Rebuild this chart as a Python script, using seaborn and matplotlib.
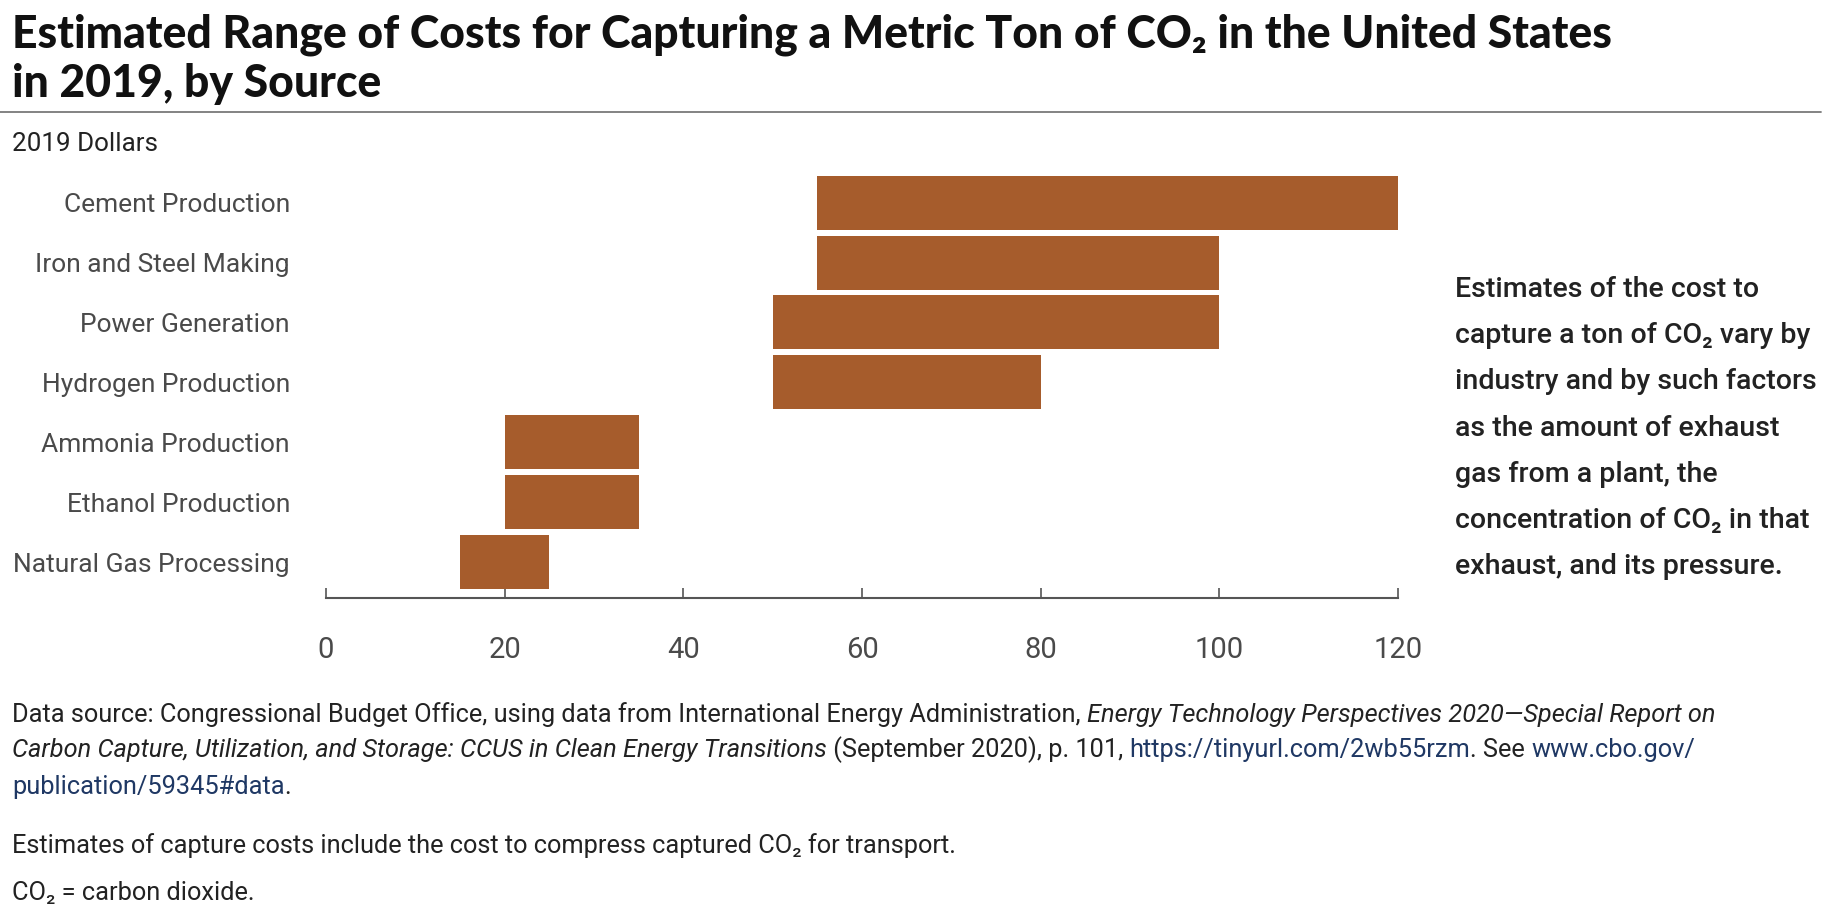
import pandas as pd
import matplotlib
matplotlib.use("Agg")
import matplotlib.pyplot as plt
import seaborn as sns

sources = ["Cement Production", "Iron and Steel Making", "Power Generation",
           "Hydrogen Production", "Ammonia Production", "Ethanol Production",
           "Natural Gas Processing"]
low_cost = [55, 55, 50, 50, 20, 20, 15]
high_cost = [120, 100, 100, 80, 35, 35, 25]
x_ticks = [0, 20, 40, 60, 80, 100, 120]

df = pd.DataFrame({"source": sources, "low": low_cost, "high": high_cost})
df["span"] = df["high"] - df["low"]

sns.set_style("white")
plt.rcParams["font.family"] = ["Roboto", "DejaVu Sans"]

W, H = 1848, 916
fig = plt.figure(figsize=(W / 100, H / 100), dpi=100)
ax = fig.add_axes([326 / W, 1 - 598 / H, 1072 / W, 425.3 / H])

bar_color = "#a65c2c"
sns.barplot(data=df, y="source", x="span", left=df["low"], color=bar_color,
            width=0.9, orient="h", errorbar=None, linewidth=0, saturation=1, ax=ax)

ax.set_xlim(0, 120)
ax.set_ylim(6.6, -0.5)
ax.set_xticks(x_ticks)
ax.set_xlabel("")
ax.set_ylabel("")
for side in ["top", "right", "left"]:
    ax.spines[side].set_visible(False)
ax.spines["bottom"].set_color("#555555")
ax.spines["bottom"].set_linewidth(1.5)
ax.tick_params(axis="x", bottom=True, direction="in", length=7, width=1.2, color="#555555",
               pad=27, labelsize=21, labelcolor="#4a4a4a")
ax.tick_params(axis="y", left=False, length=0, pad=26, labelsize=19, labelcolor="#4a4a4a")

renderer = fig.canvas.get_renderer()


def fx(px):
    return px / W


def fy(py):
    return 1 - py / H


# title, sized to fit the reference width
t1 = fig.text(fx(12), fy(47), "Estimated Range of Costs for Capturing a Metric Ton of CO\u2082 in the United States",
              fontsize=30, fontweight="black", family=["Lato", "DejaVu Sans"], color="#111111", va="baseline")
w = t1.get_window_extent(renderer).width
title_size = 30 * 1597 / w
t1.set_fontsize(title_size)
fig.text(fx(12), fy(97), "in 2019, by Source", fontsize=title_size, fontweight="black",
         family=["Lato", "DejaVu Sans"], color="#111111", va="baseline")

fig.add_artist(plt.Line2D([0, 1821 / W], [fy(112), fy(112)], color="#7a7a7a", lw=1.3))
fig.text(fx(12), fy(151), "2019 Dollars", fontsize=18.7, color="#222222", va="baseline")

note = ("Estimates of the cost to\ncapture a ton of CO\u2082 vary by\nindustry and by such factors\n"
        "as the amount of exhaust\ngas from a plant, the\nconcentration of CO\u2082 in that\n"
        "exhaust, and its pressure.")
fig.text(fx(1455), fy(428), note, fontsize=20.5, fontweight="medium", color="#222222",
         va="center", ha="left", linespacing=1.92)


def segments(x, y, parts, size=18.3):
    x = fx(x)
    for s, style, color in parts:
        t = fig.text(x, fy(y), s, fontsize=size, fontstyle=style, color=color, va="baseline")
        x += t.get_window_extent(renderer).width / W


dark = "#222222"
link = "#1f3864"
segments(12, 722, [
    ("Data source: Congressional Budget Office, using data from International Energy Administration, ", "normal", dark),
    ("Energy Technology Perspectives 2020\u2014Special Report on", "italic", dark)])
segments(12, 757, [
    ("Carbon Capture, Utilization, and Storage: CCUS in Clean Energy Transitions", "italic", dark),
    (" (September 2020), p. 101, ", "normal", dark),
    ("https://tinyurl.com/2wb55rzm", "normal", link),
    (". See ", "normal", dark),
    ("www.cbo.gov/", "normal", link)])
segments(12, 794, [("publication/59345#data", "normal", link), (".", "normal", dark)])
segments(12, 853, [("Estimates of capture costs include the cost to compress captured CO\u2082 for transport.", "normal", dark)])
segments(12, 900, [("CO\u2082 = carbon dioxide.", "normal", dark)])

fig.savefig("out.png", dpi=100, facecolor="white")
